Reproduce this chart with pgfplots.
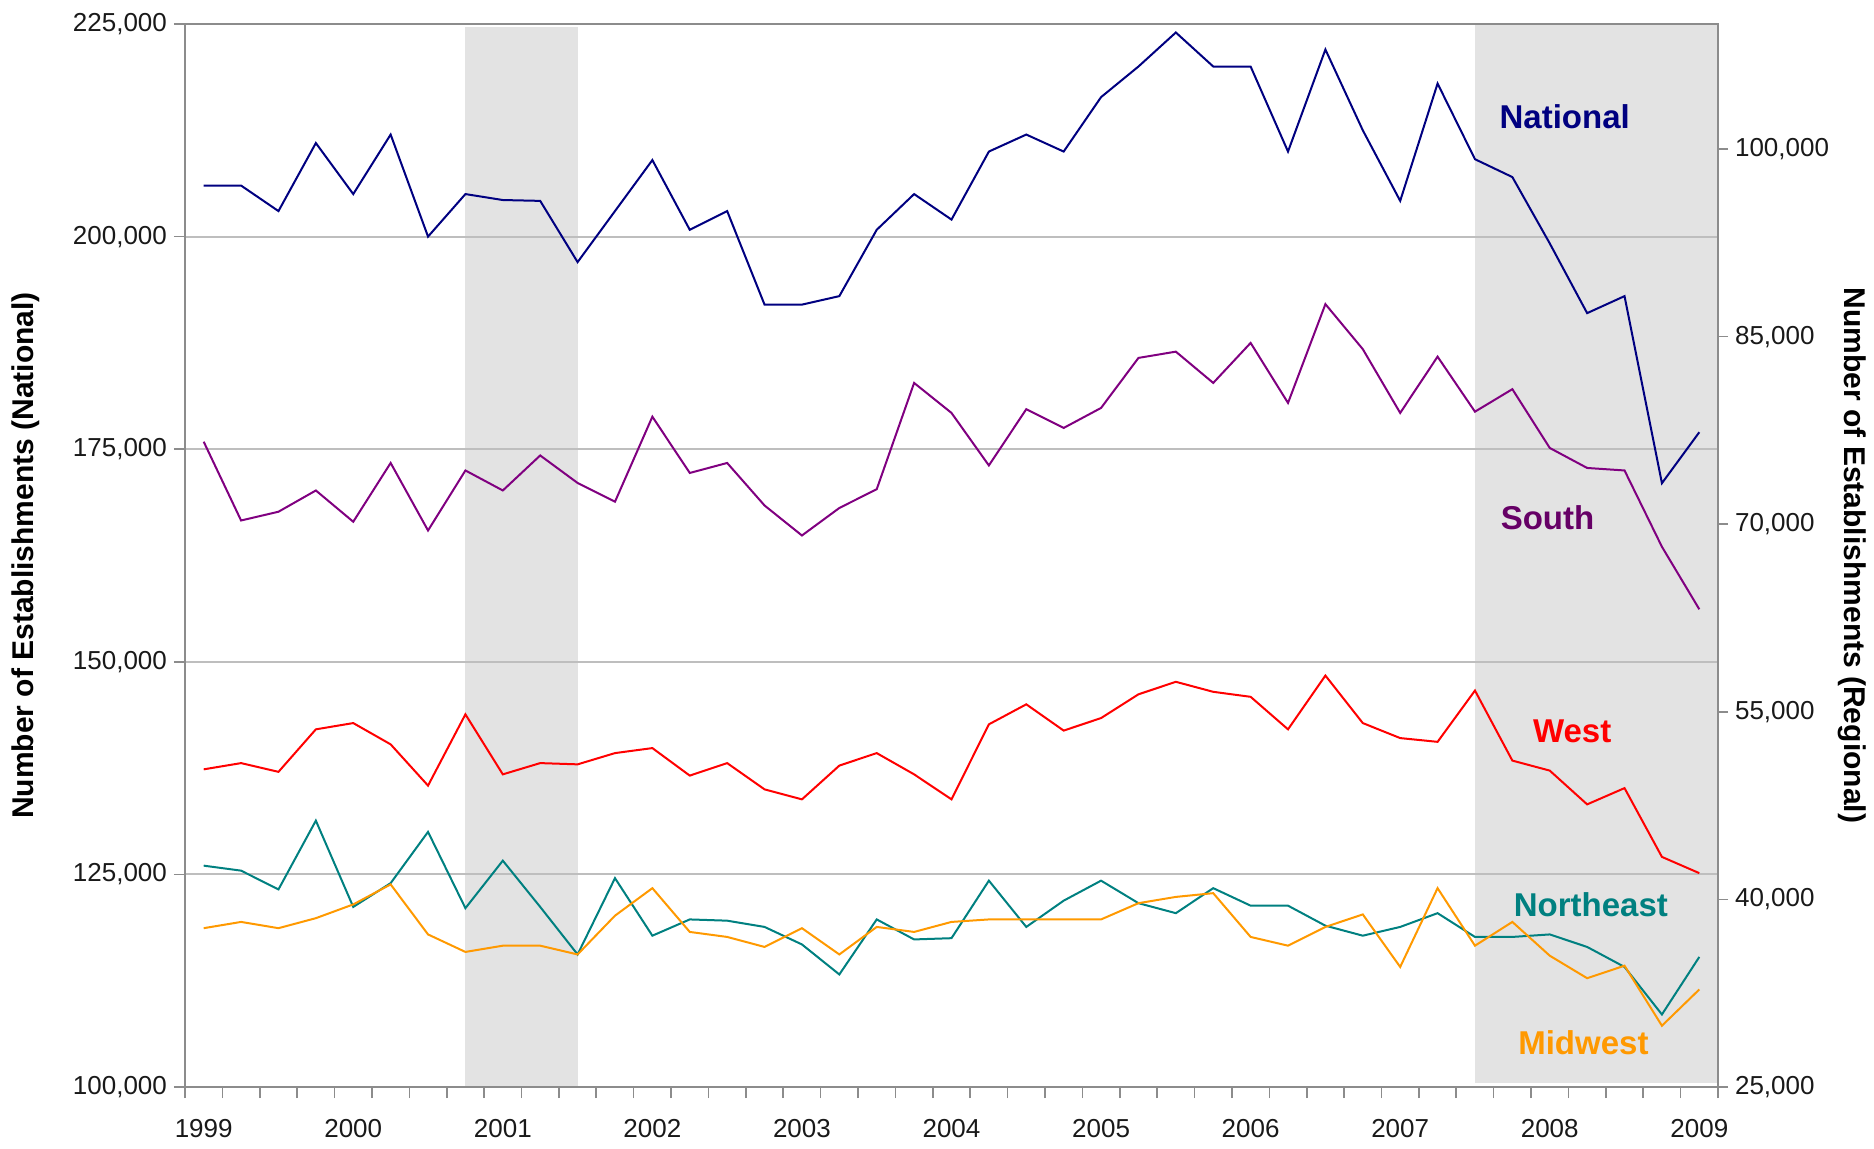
\documentclass[border=0pt]{standalone}
\usepackage{fontspec}
\setmainfont{Liberation Sans}
\usepackage{pgfplots}
\usepackage{pgfplotstable}
\pgfplotsset{compat=1.18}

\definecolor{natc}{HTML}{000080}
\definecolor{souc}{HTML}{800080}
\definecolor{soul}{HTML}{660066}
\definecolor{wesc}{HTML}{FF0000}
\definecolor{nec}{HTML}{008080}
\definecolor{mwc}{HTML}{FF9900}
\definecolor{bandc}{HTML}{E3E3E3}
\definecolor{gridc}{HTML}{BEBEBE}
\definecolor{axc}{HTML}{8C8C8C}

\pgfplotstableread{
i nat sou wes ne mw
0 206000 76600 50400 42700 37700
1 206000 70300 50900 42300 38200
2 203000 71000 50200 40800 37700
3 211000 72700 53600 46300 38500
4 205000 70200 54100 39400 39600
5 212000 74900 52400 41300 41200
6 200000 69500 49100 45400 37200
7 205000 74300 54800 39300 35800
8 204300 72700 50000 43100 36300
9 204200 75500 50900 39400 36300
10 197000 73300 50800 35600 35600
11 203000 71800 51700 41700 38700
12 209000 78600 52100 37100 40900
13 200800 74100 49900 38400 37400
14 203000 74900 50900 38300 37000
15 192000 71500 48800 37800 36200
16 192000 69100 48000 36400 37700
17 193000 71300 50700 34000 35600
18 200800 72800 51700 38400 37800
19 205000 81300 50000 36800 37400
20 202000 78900 48000 36900 38200
21 210000 74700 54000 41500 38400
22 212000 79200 55600 37800 38400
23 210000 77700 53500 39900 38400
24 216400 79300 54500 41500 38400
25 220000 83300 56400 39700 39700
26 224000 83800 57400 38900 40200
27 220000 81300 56600 40900 40500
28 220000 84500 56200 39500 37000
29 210000 79700 53600 39500 36300
30 222000 87600 57900 37900 37800
31 212500 84000 54100 37100 38800
32 204200 78900 52900 37800 34600
33 218000 83400 52600 38900 40900
34 209100 79000 56700 37000 36300
35 207000 80800 51100 37000 38200
36 199200 76100 50300 37200 35500
37 191000 74500 47600 36200 33700
38 193000 74300 48900 34600 34700
39 171000 68200 43400 30800 29900
40 177000 63200 42100 35400 32800
}\datatab

\pgfplotsset{
  common/.style={
    width=766.5pt, height=531.5pt, scale only axis,
    xmin=-0.5, xmax=40.5,
    set layers,
    tick label style={font=\fontsize{13}{15}\selectfont, text=black!90},
    /pgf/number format/.cd, fixed, precision=0, 1000 sep={,}, assume math mode=true,
    /pgfplots/.cd,
    scaled y ticks=false,
    tick align=outside,
    major tick length=5pt,
    every tick/.style={axc, line width=0.8pt},
    axis line style={axc, line width=1pt},
    label style={font=\bfseries\fontsize{15}{18}\selectfont},
  },
  series/.style={line width=1pt, no markers, sharp plot},
}

\begin{document}
\begin{tikzpicture}
\begin{axis}[common,
  ymin=100000, ymax=225000,
  ytick={100000,125000,150000,175000,200000,225000},
  ymajorgrids, grid style={gridc, line width=1pt},
  xtick={-0.5,0.5,...,40.5}, xticklabels={},
  major tick length=5.5pt,
  extra x ticks={0,4,...,40},
  extra x tick labels={1999,2000,2001,2002,2003,2004,2005,2006,2007,2008,2009},
  extra x tick style={major tick length=0pt, grid=none,
     xticklabel style={yshift=-12.5pt}},
  xtick pos=lower, ytick pos=left,
  ylabel={Number of Establishments (National)},
  ylabel style={at={(axis description cs:-0.1037,0.5)}, anchor=center},
]
\begin{pgfonlayer}{axis background}
\fill[bandc] (axis cs:7,100000) rectangle (axis cs:10,224650);
\fill[bandc] (axis cs:34,100470) rectangle (axis cs:40.5,225000);
\end{pgfonlayer}
\addplot[series, natc] table[x=i, y=nat] {\datatab};
\node[font=\bfseries\fontsize{16.5}{19}\selectfont, text=natc] at (axis cs:36.4,214060) {National};
\node[font=\bfseries\fontsize{16.5}{19}\selectfont, text=soul] at (axis cs:35.94,166965) {South};
\node[font=\bfseries\fontsize{16.5}{19}\selectfont, text=wesc] at (axis cs:36.6,141860) {West};
\node[font=\bfseries\fontsize{16.5}{19}\selectfont, text=nec] at (axis cs:37.1,121440) {Northeast};
\node[font=\bfseries\fontsize{16.5}{19}\selectfont, text=mwc] at (axis cs:36.9,105160) {Midwest};
\end{axis}

\begin{axis}[common,
  ymin=25000, ymax=110000,
  ytick={25000,40000,55000,70000,85000,100000},
  axis x line=none, axis y line*=right,
  ytick pos=right,
  ylabel={Number of Establishments (Regional)},
  ylabel style={at={(axis description cs:1.0874,0.5)}, anchor=center, rotate=180},
]
\addplot[series, souc] table[x=i, y=sou] {\datatab};
\addplot[series, wesc] table[x=i, y=wes] {\datatab};
\addplot[series, nec] table[x=i, y=ne] {\datatab};
\addplot[series, mwc] table[x=i, y=mw] {\datatab};
\end{axis}
\path (-92.5pt,-30.5pt) rectangle (844.5pt,543.5pt);
\end{tikzpicture}
\end{document}
